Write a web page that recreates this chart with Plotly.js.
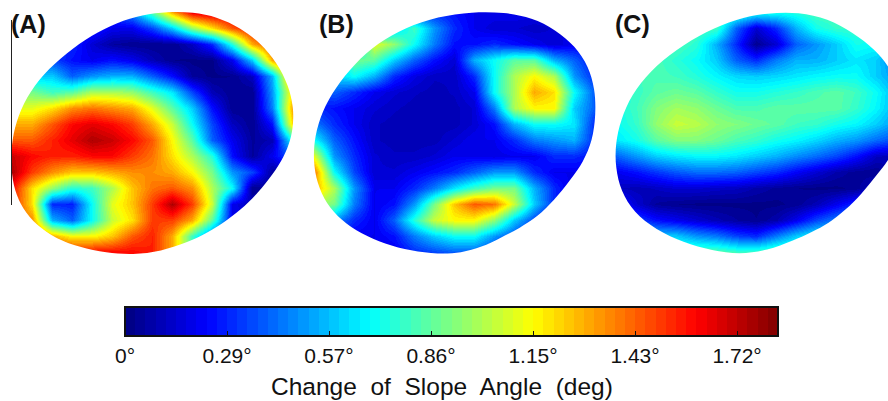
<!DOCTYPE html>
<html><head><meta charset="utf-8">
<script src="https://cdn.plot.ly/plotly-3.0.1.min.js"></script>
<style>html,body{margin:0;padding:0;background:#fff}#g{width:888px;height:401px}</style>
</head><body><div id="g"></div>
<script>
// Change of slope angle (deg), row by row
const panelA = [
[.3,.3,.3,.3,.3,.3,.5,.85,1.3,1.65,1.7,1.7,1.7,1.7,1.7],
[.3,.3,.3,.3,.3,.2,.2,.35,.6,.95,1.2,1.45,1.6,1.7,1.7],
[.3,.3,.3,.3,.15,.06,.03,.03,.03,.12,.3,.75,1.3,1.5,1.6],
[.35,.35,.35,.25,.2,.25,.2,.1,.03,.02,.02,.2,.6,1.3,1.6],
[.6,.6,.6,.4,.5,.55,.55,.4,.25,.05,.02,.03,.12,.55,1.4],
[.9,.9,.8,.85,1.0,1.0,.95,.8,.65,.35,.1,.03,.03,.5,1.2],
[1.1,1.1,1.2,1.35,1.4,1.35,1.3,1.1,.85,.6,.25,.03,.03,.45,1.3],
[1.3,1.3,1.45,1.6,1.65,1.6,1.5,1.3,1.05,.7,.35,.12,.03,.25,1.2],
[1.45,1.45,1.55,1.65,1.75,1.7,1.6,1.45,1.15,.85,.4,.2,.05,.1,.7],
[1.7,1.6,1.55,1.55,1.6,1.6,1.5,1.4,1.2,1.0,.75,.25,.05,.2,.4],
[1.75,1.5,1.35,1.25,1.25,1.3,1.35,1.35,1.3,1.15,.9,.5,.35,.05,.1],
[1.6,1.2,.95,.75,.8,1.0,1.25,1.4,1.45,1.35,1.0,.7,.03,.05,.05],
[1.55,1.2,.3,.28,.7,1.1,1.25,1.5,1.75,1.5,1.05,.2,.1,.1,.1],
[1.5,1.35,.55,.4,.7,1.05,1.2,1.5,1.5,1.3,.85,.2,.15,.15,.15],
[1.55,1.5,1.3,1.15,1.15,1.25,1.45,1.55,1.3,.8,.4,.2,.2,.2,.2],
[1.55,1.55,1.55,1.6,1.6,1.6,1.6,1.55,1.3,.8,.4,.2,.2,.2,.2]
];
const panelB = [
[.3,.3,.3,.3,.3,.3,.3,.25,.2,.2,.2,.2,.2,.2,.2],
[.4,.4,.4,.4,.6,.8,.5,.3,.2,.15,.15,.12,.15,.2,.2],
[.4,.4,.4,1.1,.95,.7,.45,.25,.25,.3,.25,.2,.15,.2,.25],
[.4,.4,.9,.85,.6,.4,.25,.15,.55,.7,.85,.85,.55,.4,.25],
[.5,.6,.7,.55,.3,.18,.12,.12,.3,.7,1.0,1.15,1.0,.5,.3],
[.3,.4,.3,.2,.15,.12,.1,.12,.2,.7,1.0,1.3,1.2,.7,.4],
[.3,.25,.2,.15,.12,.1,.1,.1,.15,.45,1.0,1.15,1.15,.6,.4],
[.45,.3,.2,.12,.1,.1,.1,.1,.15,.25,.55,.7,.7,.65,.3],
[.7,.4,.25,.12,.1,.1,.1,.15,.2,.2,.3,.45,.5,.55,.3],
[1.1,.5,.3,.15,.12,.12,.15,.2,.2,.18,.2,.2,.3,.3,.25],
[1.4,.7,.35,.15,.15,.2,.25,.3,.4,.5,.5,.3,.2,.2,.2],
[1.3,1.0,.5,.2,.2,.3,.45,.65,.8,.9,.9,.55,.3,.15,.15],
[1.0,.9,.45,.2,.25,.5,.9,1.25,1.45,1.4,1.05,.6,.3,.12,.2],
[.5,.5,.3,.2,.4,.75,1.05,1.15,1.15,.95,.6,.35,.15,.3,.5],
[.3,.3,.2,.2,.25,.45,.6,.7,.7,.5,.35,.2,.3,.3,.3],
[.2,.2,.2,.2,.2,.3,.35,.4,.4,.3,.2,.2,.2,.2,.2]
];
const panelC = [
[.82,.82,.82,.82,.82,.82,.8,.72,.72,.75,.82,.82,.82,.82,.82],
[.82,.82,.82,.82,.82,.8,.4,.15,.3,.55,.72,.78,.78,.7,.7],
[.82,.82,.82,.82,.76,.55,.3,.03,.15,.4,.5,.6,.72,.7,.55],
[.82,.82,.82,.76,.7,.6,.4,.3,.45,.55,.55,.6,.65,.6,.45],
[.8,.8,.82,.8,.75,.68,.62,.6,.62,.65,.68,.7,.7,.6,.5],
[.75,.78,.85,.88,.85,.78,.72,.72,.75,.78,.82,.85,.8,.7,.55],
[.72,.8,.92,.98,.95,.88,.82,.82,.85,.85,.85,.85,.78,.68,.55],
[.7,.78,.95,1.05,1.02,.95,.92,.88,.85,.8,.78,.72,.68,.6,.5],
[.65,.72,.85,.92,.92,.88,.82,.78,.72,.68,.62,.55,.5,.42,.35],
[.4,.5,.6,.65,.68,.68,.65,.6,.55,.48,.42,.35,.25,.12,.1],
[.2,.25,.32,.38,.42,.42,.4,.35,.3,.22,.15,.08,.04,.03,.1],
[.12,.1,.12,.15,.15,.13,.12,.08,.05,.03,.02,.02,.04,.15,.2],
[.3,.15,.05,.03,.02,.02,.02,.02,.02,.04,.1,.2,.3,.3,.3],
[.4,.35,.25,.2,.15,.1,.06,.03,.08,.2,.35,.45,.5,.5,.5],
[.6,.6,.6,.6,.5,.45,.35,.3,.45,.6,.7,.7,.7,.7,.7],
[.85,.85,.85,.85,.85,.85,.8,.8,.85,.85,.85,.85,.85,.85,.85]
];
const panelLabels = ['(A)','(B)','(C)'];
const tickValues = [0,.2867,.5733,.86,1.1467,1.4333,1.72];
const tickLabels = ['0°','0.29°','0.57°','0.86°','1.15°','1.43°','1.72°'];
const barTitle = 'Change  of  Slope  Angle  (deg)';
const outlineA = [[430,45],[500,38],[580,38],[650,52],[720,85],[780,130],[830,190],[865,260],[878,320],[877,375],[870,420],[849,471],[819,519],[771,579],[720,630],[669,666],[621,696],[570,722],[480,755],[400,762],[320,757],[240,740],[170,715],[110,675],[70,625],[45,570],[36,510],[36,430],[50,370],[80,290],[130,225],[200,160],[280,105],[350,70]];
const outlineB = [[500,38],[600,38],[680,55],[750,90],[810,140],[850,200],[868,270],[870,340],[861,429],[834,480],[795,540],[744,600],[696,651],[645,681],[585,711],[530,740],[470,758],[400,760],[320,752],[240,730],[170,700],[110,660],[65,610],[38,550],[27,480],[30,410],[55,330],[90,270],[150,190],[220,130],[300,85],[400,50]];
const outlineC = [[500,40],[600,38],[680,55],[760,100],[820,150],[880,210],[900,300],[900,430],[864,471],[825,531],[783,579],[735,630],[684,669],[633,696],[585,714],[500,755],[420,760],[340,752],[250,725],[170,690],[100,635],[65,575],[48,500],[48,430],[65,360],[95,285],[150,215],[230,150],[320,95],[410,58]];

// jet colour map in 64 flat steps
function jet(t){const c=v=>Math.round(255*Math.max(0,Math.min(1,1.5-Math.abs(4*t-v))));return `rgb(${c(3)},${c(2)},${c(1)})`;}
const scale=[];for(let i=0;i<64;i++){const col=jet((i+.5)/64);scale.push([i/64,col],[(i+1)/64,col]);}

const boxes=[{x:[5,300],ox:0,x0:12},{x:[305,600],ox:305,x0:314},{x:[606,888],ox:600,x0:616}];
const yBox=[5,260];
const sets=[panelA,panelB,panelC], outlines=[outlineA,outlineB,outlineC];
const W=888,H=401;
const layout={width:W,height:H,margin:{l:0,r:0,t:0,b:0,autoexpand:false},paper_bgcolor:'#fff',plot_bgcolor:'#fff',showlegend:false,
 coloraxis:{cmin:0,cmax:1.835,colorscale:scale,colorbar:{orientation:'h',x:125/W,xanchor:'left',y:1-307/H,yanchor:'top',xpad:0,ypad:0,
  lenmode:'pixels',len:653,thicknessmode:'pixels',thickness:29,outlinewidth:2,outlinecolor:'#111',
  tickmode:'array',tickvals:tickValues,ticktext:tickLabels,ticks:'inside',ticklen:6,tickwidth:1,tickcolor:'#111',
  tickfont:{family:'"Liberation Sans",sans-serif',size:21,color:'#111'}}},
 shapes:[],annotations:[]};
const traces=[];
function smoothPath(raw){const n0=raw.length;
 const cx=raw.reduce((a,p)=>a+p[0],0)/n0,cy=raw.reduce((a,p)=>a+p[1],0)/n0;
 const pts=raw.map((p,i)=>{const a=raw[(i-1+n0)%n0],b=raw[(i+1)%n0];
  return [cx+1.008*((a[0]+2*p[0]+b[0])/4-cx),cy+1.008*((a[1]+2*p[1]+b[1])/4-cy)];});
 const n=pts.length;let d=`M${pts[0][0]},${pts[0][1]}`;
 for(let i=0;i<n;i++){const p0=pts[(i-1+n)%n],p1=pts[i],p2=pts[(i+1)%n],p3=pts[(i+2)%n];
  d+=`C${p1[0]+(p2[0]-p0[0])/6},${p1[1]+(p2[1]-p0[1])/6} ${p2[0]-(p3[0]-p1[0])/6},${p2[1]-(p3[1]-p1[1])/6} ${p2[0]},${p2[1]}`;}
 return d+'Z';}
sets.forEach((z,i)=>{const b=boxes[i],s=i?String(i+1):'';
 traces.push({type:'heatmap',z,x0:b.x0,dx:20,y0:12,dy:16,coloraxis:'coloraxis',zsmooth:'best',xaxis:'x'+s,yaxis:'y'+s,hoverinfo:'skip'});
 layout['xaxis'+s]={domain:[b.x[0]/W,b.x[1]/W],range:b.x,visible:false,fixedrange:true};
 layout['yaxis'+s]={domain:[1-yBox[1]/H,1-yBox[0]/H],range:[yBox[1],yBox[0]],visible:false,fixedrange:true};
 const pts=outlines[i].map(p=>[b.ox+p[0]/3,p[1]/3]);
 const rect=`M${b.x[0]-2},${yBox[0]-2}L${b.x[1]+2},${yBox[0]-2}L${b.x[1]+2},${yBox[1]+2}L${b.x[0]-2},${yBox[1]+2}Z`;
 layout.shapes.push({type:'path',xref:'x'+s,yref:'y'+s,path:rect+smoothPath(pts),fillrule:'evenodd',fillcolor:'#fff',line:{width:0},layer:'above'});
});
layout.shapes.push({type:'line',xref:'paper',yref:'paper',x0:11.5/W,x1:11.5/W,y0:1-20/H,y1:1-205/H,line:{color:'#222',width:1},layer:'above'});
[[11,'(A)'],[319,'(B)'],[615,'(C)']].forEach((a,i)=>layout.annotations.push({xref:'paper',yref:'paper',x:a[0]/W,y:1-24/H,xanchor:'left',yanchor:'middle',showarrow:false,
 text:'<b>'+panelLabels[i]+'</b>',font:{family:'"Liberation Sans",sans-serif',size:25,color:'#111'},xshift:-2}));
layout.annotations.push({xref:'paper',yref:'paper',x:442/W,y:1-386/H,xanchor:'center',yanchor:'middle',showarrow:false,text:barTitle,font:{family:'"Liberation Sans",sans-serif',size:24.5,color:'#111'}});
Plotly.newPlot('g',traces,layout,{displayModeBar:false,staticPlot:true});
</script></body></html>
